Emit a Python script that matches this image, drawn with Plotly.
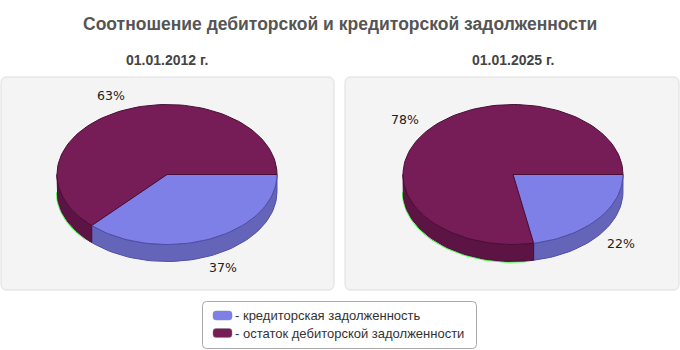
import numpy as np
import plotly.graph_objects as go

# ---- data ----
chart_title = "Соотношение дебиторской и кредиторской задолженности"
dates = ["01.01.2012 г.", "01.01.2025 г."]
series_names = ["кредиторская задолженность", "остаток дебиторской задолженности"]
credit_share = [37, 22]
debit_rest_share = [63, 78]

# ---- styles ----
top_colors = ["#7F7FE8", "#761C56"]
side_colors = ["#6464B9", "#5C1444"]
edge_colors = ["#4E4EA6", "#4A0E35"]
panel_boxes = [(1, 77, 334, 290), (345, 77, 679, 290)]
centers = [(167, 174.5), (513, 174.5)]
RX, RY, DEPTH = 110, 70, 17

W, H = 680, 350
fig = go.Figure()


def rrect(x0, y0, x1, y1, r):
    return (f"M{x0+r},{y0} L{x1-r},{y0} Q{x1},{y0} {x1},{y0+r} L{x1},{y1-r} "
            f"Q{x1},{y1} {x1-r},{y1} L{x0+r},{y1} Q{x0},{y1} {x0},{y1-r} "
            f"L{x0},{y0+r} Q{x0},{y0} {x0+r},{y0} Z")


shapes = []
annotations = []
for (x0, y0, x1, y1) in panel_boxes:
    shapes.append(dict(type="path", path=rrect(x0, y0, x1, y1, 6), xref="x", yref="y",
                       fillcolor="#F4F4F4", line=dict(color="#DEDEDE", width=1), layer="below"))


def arc(cx, cy, a0, a1, dy=0, n=160):
    t = np.radians(np.linspace(a0, a1, max(2, int(abs(a1 - a0) / 360 * n) + 2)))
    return cx + RX * np.cos(t), cy + RY * np.sin(t) + dy


for i, (cx, cy) in enumerate(centers):
    vals = [credit_share[i], debit_rest_share[i]]
    tot = sum(vals)
    starts, ends = [], []
    acc = 0.0
    for v in vals:
        starts.append(acc / tot * 360)
        acc += v
        ends.append(acc / tot * 360)
    # sides (front half: 0..180 degrees clockwise from 3 o'clock, y down)
    for k in range(len(vals)):
        a0, a1 = max(starts[k], 0), min(ends[k], 180)
        if a1 > a0:
            if k == 1:
                # thin green rendering artefact along the lower edge of the dark side
                xg, yg = arc(cx, cy, a0 + 4, a1, dy=DEPTH + 0.8)
                fig.add_trace(go.Scatter(x=xg - 0.6, y=yg, mode="lines",
                                         line=dict(color="#3CFF3C", width=1),
                                         hoverinfo="skip", showlegend=False))
            xt, yt = arc(cx, cy, a0, a1)
            xb, yb = arc(cx, cy, a1, a0, dy=DEPTH)
            fig.add_trace(go.Scatter(x=np.r_[xt, xb, xt[:1]], y=np.r_[yt, yb, yt[:1]],
                                     mode="lines", fill="toself", fillcolor=side_colors[k],
                                     line=dict(color=edge_colors[k], width=1),
                                     hoverinfo="skip", showlegend=False))
    # tops
    for k in range(len(vals)):
        xa, ya = arc(cx, cy, starts[k], ends[k])
        fig.add_trace(go.Scatter(x=np.r_[cx, xa, cx], y=np.r_[cy, ya, cy],
                                 mode="lines", fill="toself", fillcolor=top_colors[k],
                                 line=dict(color=edge_colors[k], width=1),
                                 hoverinfo="skip", showlegend=False))
    # labels
    for k in range(len(vals)):
        mid = np.radians((starts[k] + ends[k]) / 2)
        lx = cx + 140 * np.cos(mid)
        ly = cy + 86 * np.sin(mid) + (14 if np.sin(mid) > 0 else 0)
        annotations.append(dict(x=lx, y=ly, xref="x", yref="y", showarrow=False,
                                text=f"{round(vals[k] / tot * 100)}%",
                                font=dict(family="DejaVu Sans, Verdana", size=12.5, color="#222222")))
    annotations.append(dict(x=cx, y=60, xref="x", yref="y", showarrow=False, text=dates[i],
                            font=dict(family="Liberation Sans, Arial", size=14, color="#444444",
                                      weight="bold")))

annotations.append(dict(x=340, y=24, xref="x", yref="y", showarrow=False, text=chart_title,
                        font=dict(family="Liberation Sans, Arial", size=17.5, color="#555555",
                                  weight="bold")))

# legend
shapes.append(dict(type="path", path=rrect(202.5, 301.5, 476.5, 348.5, 4), xref="x", yref="y",
                   fillcolor="#FFFFFF", line=dict(color="#A8A8A8", width=1), layer="below"))
for k, name in enumerate(series_names):
    yc = 315.5 + k * 17.5
    shapes.append(dict(type="path", path=rrect(213, yc - 4.5, 232, yc + 4.5, 3), xref="x", yref="y",
                       fillcolor=top_colors[k], line=dict(color="#888888", width=0.5)))
    annotations.append(dict(x=233, y=yc, xref="x", yref="y", showarrow=False, xanchor="left",
                            text="- " + name,
                            font=dict(family="Liberation Sans, Arial", size=13, color="#333333")))

fig.update_layout(width=W, height=H, margin=dict(l=0, r=0, t=0, b=0),
                  paper_bgcolor="white", plot_bgcolor="white",
                  xaxis=dict(range=[0, W], visible=False, fixedrange=True),
                  yaxis=dict(range=[H, 0], visible=False, fixedrange=True),
                  shapes=shapes, annotations=annotations, showlegend=False)
fig.write_html("out.html")
